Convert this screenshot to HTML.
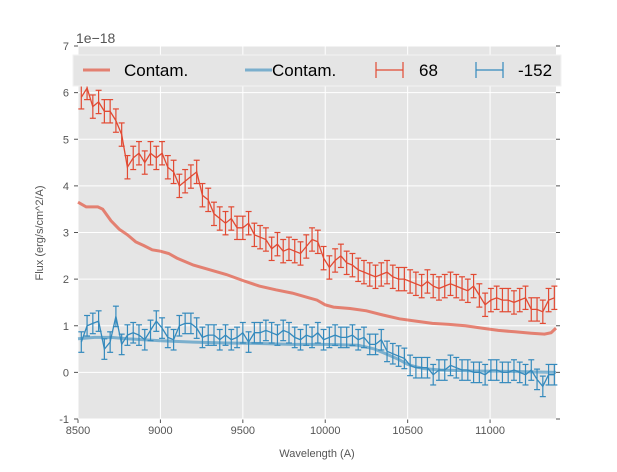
<!DOCTYPE html>
<html><head><meta charset="utf-8"><style>
body{margin:0;background:#fff;font-family:"Liberation Sans",sans-serif;}
svg text{font-family:"Liberation Sans",sans-serif;}
</style></head><body>
<svg id="c" width="617" height="467" xmlns="http://www.w3.org/2000/svg"></svg>
<script>
const redFlux=[5.9,6.1,5.7,5.8,5.6,5.6,5.4,5.1,4.4,4.6,4.7,4.5,4.7,4.6,4.7,4.4,4.3,4.0,4.1,4.2,4.3,3.8,3.7,3.4,3.3,3.2,3.3,3.1,3.1,3.2,2.95,2.9,2.85,2.65,2.75,2.6,2.65,2.6,2.55,2.7,2.85,2.8,2.45,2.25,2.4,2.5,2.35,2.3,2.2,2.15,2.1,2.05,2.1,2.15,2.05,2.0,2.0,1.95,1.9,1.85,1.95,1.85,1.8,1.85,1.9,1.85,1.8,1.75,1.85,1.65,1.45,1.55,1.6,1.55,1.55,1.5,1.55,1.6,1.35,1.35,1.3,1.55,1.6];
const blueFlux=[0.65,1.0,1.05,1.1,0.5,0.65,1.2,0.6,0.8,0.85,0.8,0.7,0.9,1.1,0.95,0.75,0.7,1.0,1.05,1.05,0.95,0.75,0.8,0.8,0.7,0.8,0.7,0.75,0.85,0.65,0.85,0.85,0.9,0.85,0.8,0.9,0.85,0.75,0.7,0.8,0.75,0.85,0.7,0.75,0.8,0.75,0.75,0.8,0.7,0.75,0.6,0.6,0.7,0.45,0.4,0.35,0.3,0.15,0.1,0.1,0.1,-0.05,0.05,0.05,0.15,0.1,0.05,0.05,0.0,0.0,-0.05,0.05,0.05,0.0,0.0,0.05,0.0,-0.05,0.05,-0.15,-0.3,-0.05,-0.05];
const redErr=0.25, blueErr=0.22;
const contamRedX=[8500,8550,8620,8650,8700,8750,8800,8850,8900,8950,9000,9050,9100,9200,9300,9400,9500,9600,9700,9800,9900,9950,10000,10050,10150,10250,10350,10450,10550,10650,10750,10850,10950,11050,11150,11250,11330,11370,11400];
const contamRedY=[3.65,3.55,3.55,3.5,3.25,3.07,2.95,2.8,2.72,2.63,2.6,2.55,2.45,2.3,2.2,2.1,1.97,1.85,1.77,1.7,1.6,1.55,1.45,1.4,1.37,1.32,1.23,1.15,1.1,1.05,1.03,1.0,0.95,0.9,0.87,0.84,0.82,0.85,0.95];
const contamBlueX=[8500,8600,8700,8800,9000,9200,9400,9600,9800,10000,10200,10300,10400,10450,10500,10550,10600,10700,10900,11100,11400];
const contamBlueY=[0.72,0.75,0.75,0.72,0.68,0.65,0.63,0.62,0.6,0.6,0.58,0.5,0.35,0.27,0.17,0.12,0.08,0.05,0.03,0.02,0.0];
const xTicks=[8500,9000,9500,10000,10500,11000];
const yTicks=[-1,0,1,2,3,4,5,6,7];
const x0=8520, dx=35;
const L=78,R=556,T=46,B=419;
const sx=v=>L+(v-8500)/(11400-8500)*(R-L);
const sy=v=>B-(v+1)/8*(B-T);
const NS="http://www.w3.org/2000/svg";
const svg=document.getElementById('c');
function mk(tag,attrs,parent){const e=document.createElementNS(NS,tag);for(const k in attrs)e.setAttribute(k,attrs[k]);(parent||svg).appendChild(e);return e;}
const bg=mk('rect',{x:L,y:T,width:R-L,height:B-T,fill:'#e5e5e5'});


xTicks.forEach(t=>{const l=mk('line',{x1:sx(t),x2:sx(t),y1:T,y2:B,stroke:'#fff','stroke-width':1});


mk('line',{x1:sx(t),x2:sx(t),y1:B,y2:B+4,stroke:'#555'});
const tx=mk('text',{x:sx(t),y:B+15,'text-anchor':'middle','font-size':11,fill:'#555'});tx.textContent=t;

});
yTicks.forEach(t=>{const l=mk('line',{x1:L,x2:R,y1:sy(t),y2:sy(t),stroke:'#fff','stroke-width':1});


mk('line',{x1:L-4,x2:L,y1:sy(t),y2:sy(t),stroke:'#555'});
mk('line',{x1:R,x2:R+4,y1:sy(t),y2:sy(t),stroke:'#555'});
const tx=mk('text',{x:L-9,y:sy(t)+4,'text-anchor':'end','font-size':11,fill:'#555'});tx.textContent=t;

});
function path(xs,ys){return xs.map((x,i)=>(i?'L':'M')+sx(x).toFixed(1)+','+sy(ys[i]).toFixed(1)).join('');}
const cr=mk('path',{d:path(contamRedX,contamRedY),fill:'none',stroke:'#E24A33','stroke-opacity':0.65,'stroke-width':3});


const cb=mk('path',{d:path(contamBlueX,contamBlueY),fill:'none',stroke:'#348ABD','stroke-opacity':0.6,'stroke-width':3});


function series(vals,err,col,name){
 const xs=vals.map((v,i)=>x0+dx*i);
 const g=mk('g',{});
 
 
 vals.forEach((v,i)=>{const x=sx(xs[i]);
  mk('line',{x1:x,x2:x,y1:sy(v-err),y2:sy(v+err),stroke:col,'stroke-width':1.2},g);
  mk('line',{x1:x-3,x2:x+3,y1:sy(v-err),y2:sy(v-err),stroke:col,'stroke-width':1.2},g);
  mk('line',{x1:x-3,x2:x+3,y1:sy(v+err),y2:sy(v+err),stroke:col,'stroke-width':1.2},g);});
 mk('path',{d:path(xs,vals),fill:'none',stroke:col,'stroke-width':1.3},g);
}
series(redFlux,redErr,'#E24A33','series-68');
series(blueFlux,blueErr,'#348ABD','series-minus-152');
// legend
const lg=mk('g',{});


mk('rect',{x:73,y:55,width:488,height:31,fill:'#e5e5e5',stroke:'#f2f2f2','stroke-width':1},lg);
mk('line',{x1:83,x2:110,y1:70,y2:70,stroke:'#E24A33','stroke-opacity':0.65,'stroke-width':3},lg);
mk('line',{x1:245,x2:272,y1:70,y2:70,stroke:'#348ABD','stroke-opacity':0.6,'stroke-width':3},lg);
[[376,'#E24A33'],[476,'#348ABD']].forEach(([x,c])=>{
 mk('line',{x1:x,x2:x+27,y1:70,y2:70,stroke:c,'stroke-width':1.2},lg);
 mk('line',{x1:x,x2:x,y1:62,y2:78,stroke:c,'stroke-width':1.2},lg);
 mk('line',{x1:x+27,x2:x+27,y1:62,y2:78,stroke:c,'stroke-width':1.2},lg);});
[[124,'Contam.'],[272,'Contam.'],[419,'68'],[518,'-152']].forEach(([x,s])=>{
 const t=mk('text',{x:x,y:76,'font-size':17,fill:'#000'},lg);t.textContent=s;
 
 });
const off=mk('text',{x:76,y:43,'font-size':14,fill:'#555'});off.textContent='1e\u221218';


const xl=mk('text',{x:317,y:457,'text-anchor':'middle','font-size':11,fill:'#555'});xl.textContent='Wavelength (A)';


const yl=mk('text',{x:0,y:0,'text-anchor':'middle','font-size':11,fill:'#555',transform:'translate(43,233) rotate(-90)'});yl.textContent='Flux (erg/s/cm^2/A)';


</script>
</body></html>
